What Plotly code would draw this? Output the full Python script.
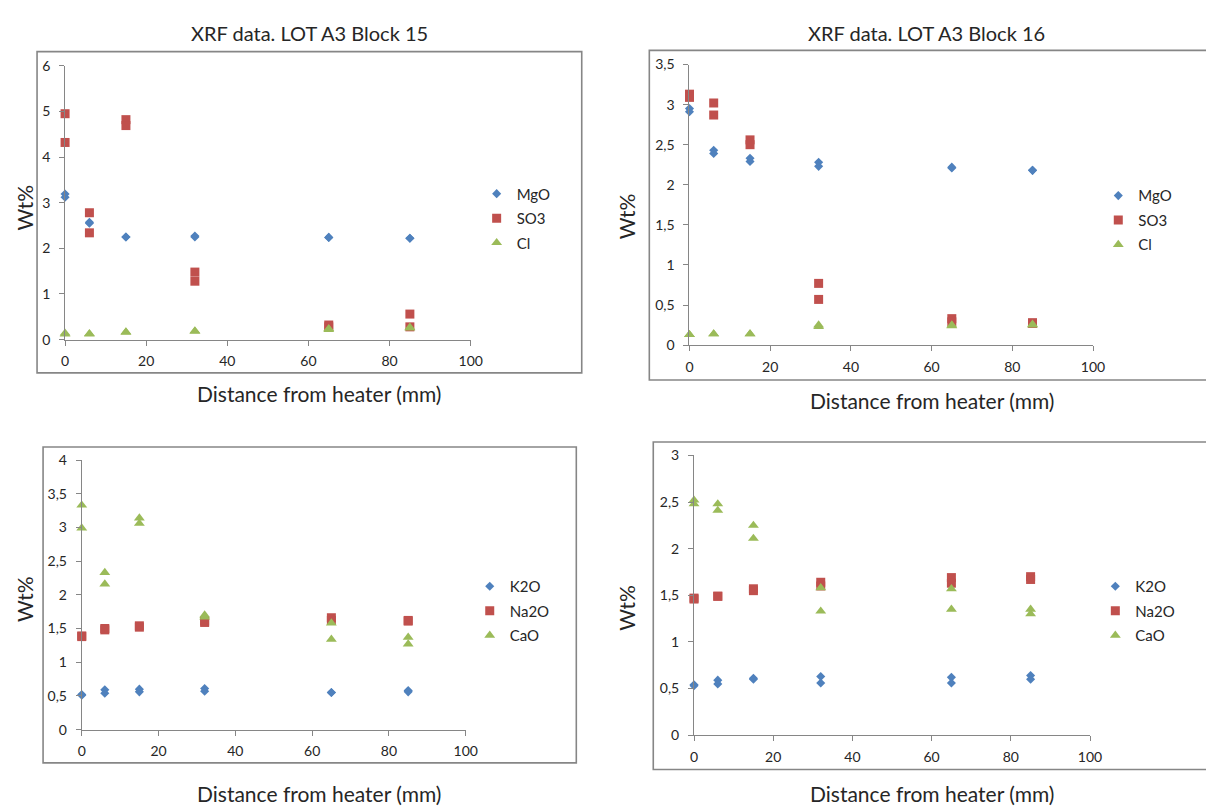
import plotly.graph_objects as go

# ---------------- data ----------------
distance = [0, 0, 6, 6, 15, 15, 32, 32, 65, 65, 85, 85]

b15_mgo = [3.19, 3.12, 2.57, 2.55, 2.25, 2.25, 2.27, 2.25, 2.24, 2.24, 2.22, 2.22]
b15_so3 = [4.95, 4.32, 2.78, 2.34, 4.82, 4.69, 1.48, 1.28, 0.32, 0.28, 0.56, 0.28]
b15_cl = [0.14, 0.12, 0.13, 0.12, 0.17, 0.16, 0.19, 0.18, 0.24, 0.22, 0.27, 0.25]

b16_mgo = [2.95, 2.91, 2.43, 2.39, 2.33, 2.29, 2.28, 2.23, 2.22, 2.21, 2.18, 2.18]
b16_so3 = [3.13, 3.09, 3.02, 2.87, 2.56, 2.50, 0.77, 0.57, 0.33, 0.29, 0.28, 0.27]
b16_cl = [0.13, 0.13, 0.14, 0.14, 0.14, 0.14, 0.25, 0.23, 0.25, 0.24, 0.26, 0.25]

b15_k2o = [0.52, 0.51, 0.59, 0.54, 0.60, 0.56, 0.61, 0.57, 0.55, 0.55, 0.58, 0.56]
b15_na2o = [1.39, 1.38, 1.50, 1.48, 1.54, 1.52, 1.61, 1.59, 1.66, 1.62, 1.62, 1.61]
b15_cao = [3.33, 2.99, 2.33, 2.16, 3.14, 3.06, 1.70, 1.67, 1.58, 1.34, 1.37, 1.27]

b16_k2o = [0.54, 0.53, 0.59, 0.55, 0.61, 0.60, 0.63, 0.56, 0.62, 0.56, 0.64, 0.60]
b16_na2o = [1.47, 1.46, 1.49, 1.49, 1.57, 1.55, 1.64, 1.60, 1.69, 1.63, 1.70, 1.67]
b16_cao = [2.52, 2.48, 2.48, 2.41, 2.25, 2.11, 1.58, 1.33, 1.57, 1.35, 1.35, 1.30]

titles = ["XRF data. LOT A3 Block 15", "XRF data. LOT A3 Block 16"]
x_title = "Distance from heater (mm)"
y_title = "Wt%"

# ---------------- styling ----------------
W, H = 1206, 812
FONT = "Lato"
BLUE, RED, GREEN = "#4F81BD", "#C0504D", "#9BBB59"
AXIS = "#868686"
TXT = "#262626"


def px(x):
    return x / W


def py(y):
    return 1 - y / H


panels = [
    # plot-area pixels (left, right, top, bottom), y max, y dtick, box, series
    dict(l=61.9, r=473, t=58, b=337.7, ymax=6, dt=1, box=(33.5, 585.5, 43.5, 371.7),
         series=[("MgO", b15_mgo), ("SO3", b15_so3), ("Cl", b15_cl)],
         wt=(21, 203), xt=(319, 393), leg=(479, 184)),
    dict(l=694.7, r=1103.7, t=56.7, b=343.3, ymax=3.5, dt=0.5, box=(654, 1260, 42.3, 379),
         series=[("MgO", b16_mgo), ("SO3", b16_so3), ("Cl", b16_cl)],
         wt=(631, 212), xt=(940, 400), leg=(1109, 186)),
    dict(l=78.8, r=468, t=460.7, b=736, ymax=4, dt=0.5, box=(39.6, 580, 447.3, 770),
         series=[("K2O", b15_k2o), ("Na2O", b15_na2o), ("CaO", b15_cao)],
         wt=(21, 603), xt=(319, 801.7), leg=(472, 585)),
    dict(l=699.3, r=1100.6, t=456, b=741.7, ymax=3, dt=0.5, box=(658, 1260, 442.3, 776.7),
         series=[("K2O", b16_k2o), ("Na2O", b16_na2o), ("CaO", b16_cao)],
         wt=(631, 612), xt=(940, 801.7), leg=(1106, 585)),
]

symbols = [("diamond", 7, BLUE), ("square", 9, RED), ("triangle-up", 9.5, GREEN)]

fig = go.Figure()
layout = dict(
    width=W, height=H, margin=dict(l=0, r=0, t=0, b=0),
    paper_bgcolor="white", plot_bgcolor="white",
    separators=", ", showlegend=True,
    font=dict(family=FONT, color=TXT),
)
shapes, annotations = [], []

for i, p in enumerate(panels):
    n = i + 1
    xa = "x" if n == 1 else f"x{n}"
    ya = "y" if n == 1 else f"y{n}"
    lg = "legend" if n == 1 else f"legend{n}"
    for k, (name, vals) in enumerate(p["series"]):
        sym, size, col = symbols[k]
        fig.add_trace(go.Scatter(
            x=distance, y=vals, mode="markers", name=name,
            marker=dict(symbol=sym, size=size, color=col, line=dict(width=0)),
            xaxis=xa, yaxis=ya, legend=lg, cliponaxis=False,
            legendgroup=f"{n}-{k}",
        ))
    common = dict(showline=True, linecolor=AXIS, linewidth=1, ticks="outside",
                  ticklen=5, tickcolor=AXIS, tickwidth=1, showgrid=False,
                  zeroline=False, fixedrange=True,
                  tickfont=dict(family=FONT, size=14, color=TXT))
    layout["xaxis" if n == 1 else f"xaxis{n}"] = dict(
        domain=[px(p["l"]), px(p["r"])], range=[0, 100], tick0=0, dtick=20,
        anchor=ya, ticklabelstandoff=4, **common)
    layout["yaxis" if n == 1 else f"yaxis{n}"] = dict(
        domain=[py(p["b"]), py(p["t"])], range=[0, p["ymax"]], tick0=0, dtick=p["dt"],
        anchor=xa, ticklabelstandoff=6, **common)
    layout[lg] = dict(
        x=px(p["leg"][0]), y=py(p["leg"][1] - 12), xanchor="left", yanchor="top",
        bgcolor="rgba(0,0,0,0)", font=dict(family=FONT, size=15, color=TXT),
        tracegroupgap=2, itemwidth=30,
    )
    bx0, bx1, by0, by1 = p["box"]
    shapes.append(dict(type="rect", xref="paper", yref="paper",
                       x0=px(bx0), x1=px(bx1), y0=py(by1), y1=py(by0),
                       line=dict(color=AXIS, width=1.6), fillcolor="rgba(0,0,0,0)"))
    annotations.append(dict(text=y_title, xref="paper", yref="paper",
                            x=px(p["wt"][0]), y=py(p["wt"][1]), showarrow=False,
                            textangle=-90, xanchor="center", yanchor="middle",
                            font=dict(family=FONT, size=21, color=TXT)))
    annotations.append(dict(text=x_title, xref="paper", yref="paper",
                            x=px(p["xt"][0]), y=py(p["xt"][1]), showarrow=False,
                            xanchor="center", yanchor="middle",
                            font=dict(family=FONT, size=21, color=TXT)))

annotations.append(dict(text=titles[0], xref="paper", yref="paper", x=px(310), y=py(25),
                        showarrow=False, xanchor="center", yanchor="middle",
                        font=dict(family=FONT, size=20, color=TXT)))
annotations.append(dict(text=titles[1], xref="paper", yref="paper", x=px(935), y=py(25),
                        showarrow=False, xanchor="center", yanchor="middle",
                        font=dict(family=FONT, size=20, color=TXT)))

layout["shapes"] = shapes
layout["annotations"] = annotations
fig.update_layout(**layout)
fig.write_html("out.html", config={"displayModeBar": False},
               post_script="document.body.style.margin='0';")
